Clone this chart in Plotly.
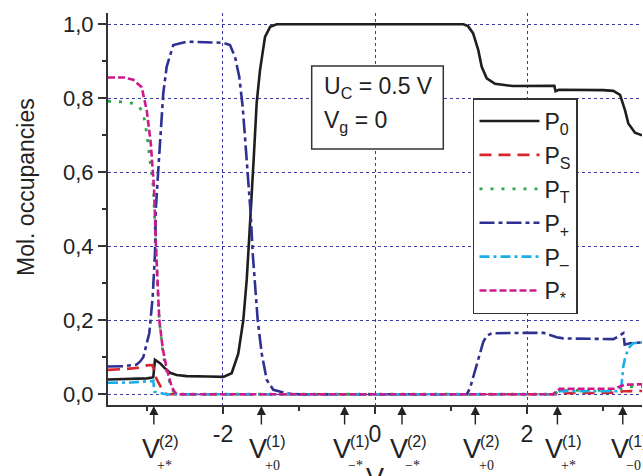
import plotly.graph_objects as go

# ---------------- data ----------------
x_P0 = [-3.513, -3.2, -3.0, -2.93, -2.917, -2.895, -2.829, -2.763, -2.697, -2.609, -2.478, -2.2,
        -1.996, -1.886, -1.799, -1.733, -1.688, -1.654, -1.622, -1.592, -1.557, -1.513, -1.447,
        -1.38, -1.293, 0.0, 1.162, 1.224, 1.29, 1.359, 1.404, 1.47, 1.579, 1.816, 2.36, 2.375,
        2.42, 3.0, 3.136, 3.224, 3.289, 3.333, 3.421, 3.513]
y_P0 = [0.040, 0.041, 0.043, 0.045, 0.047, 0.093, 0.084, 0.070, 0.058, 0.052, 0.049, 0.048,
        0.047, 0.057, 0.110, 0.200, 0.309, 0.426, 0.534, 0.651, 0.787, 0.876, 0.966,
        0.993, 1.0, 1.0, 1.0, 0.995, 0.976, 0.930, 0.885, 0.854, 0.839, 0.833, 0.834, 0.819,
        0.823, 0.822, 0.820, 0.809, 0.768, 0.732, 0.707, 0.700]

x_PS = [-3.513, -3.3, -3.1, -3.0, -2.93, -2.905, -2.895, -2.85, -2.807, -2.77, -2.74,
        2.38, 2.42, 3.2, 3.26, 3.513]
y_PS = [0.066, 0.068, 0.072, 0.078, 0.079, 0.065, 0.050, 0.030, 0.015, 0.005, 0.0,
        0.0, 0.003, 0.004, 0.008, 0.009]

x_PT = [-3.513, -3.3, -3.18, -3.1, -3.049, -3.004, -2.961, -2.917, -2.882, -2.838, -2.79,
        -2.741, -2.675, -2.63, 2.36, 2.42, 3.2, 3.28, 3.513]
y_PT = [0.792, 0.790, 0.786, 0.776, 0.760, 0.706, 0.633, 0.560, 0.400, 0.200, 0.110,
        0.060, 0.015, 0.0, 0.0, 0.010, 0.011, 0.020, 0.021]

x_Pplus = [-3.513, -3.3, -3.14, -3.092, -3.049, -3.004, -2.97, -2.961, -2.925, -2.895, -2.882,
           -2.829, -2.786, -2.741, -2.654, -2.478, -2.2, -1.996, -1.908, -1.842, -1.786,
           -1.741, -1.711, -1.667, -1.636, -1.609, -1.579, -1.543, -1.491, -1.425, -1.338,
           -1.162, -1.0, 1.15, 1.207, 1.25, 1.293, 1.338, 1.382, 1.425, 1.47, 1.535, 2.0,
           2.215, 2.303, 2.391, 2.478, 3.0, 3.136, 3.197, 3.267, 3.285, 3.355, 3.513]
y_Pplus = [0.075, 0.076, 0.080, 0.088, 0.100, 0.135, 0.165, 0.183, 0.264, 0.380, 0.507,
           0.678, 0.813, 0.885, 0.944, 0.953, 0.952, 0.950, 0.944, 0.912, 0.858,
           0.777, 0.696, 0.588, 0.489, 0.381, 0.291, 0.200, 0.111, 0.039, 0.012,
           0.002, 0.0, 0.0, 0.0, 0.016, 0.048, 0.079, 0.111, 0.142, 0.158, 0.165, 0.166,
           0.166, 0.160, 0.154, 0.151, 0.149, 0.149, 0.156, 0.165, 0.134, 0.138, 0.140]

x_Pminus = [-3.513, -3.2, -2.93, -2.917, -2.904, -2.829, -2.75, 2.38, 2.43, 3.18, 3.224,
            3.246, 3.267, 3.289, 3.333, 3.399, 3.513]
y_Pminus = [0.031, 0.032, 0.036, 0.037, 0.007, 0.003, 0.0, 0.0, 0.008, 0.008, 0.012,
            0.030, 0.075, 0.097, 0.124, 0.138, 0.140]

x_Pstar = [-3.513, -3.3, -3.18, -3.07, -3.004, -2.951, -2.908, -2.882, -2.838, -2.79, -2.741,
           -2.675, -2.632, -2.57, 2.34, 2.43, 3.15, 3.29, 3.513]
y_Pstar = [0.856, 0.856, 0.850, 0.830, 0.768, 0.680, 0.560, 0.400, 0.200, 0.120, 0.070,
           0.020, 0.005, 0.0, 0.0, 0.0145, 0.015, 0.026, 0.027]

series_names = ["P<sub>0</sub>", "P<sub>S</sub>", "P<sub>T</sub>", "P<sub>+</sub>",
                "P<sub>\u2013</sub>", "P<sub>*</sub>"]

x_tickvals = [-2, 0, 2]
x_ticktext = ["-2", "0", "2"]
x_minor = [-3, -1, 1, 3]
y_tickvals = [0.0, 0.2, 0.4, 0.6, 0.8, 1.0]
y_ticktext = ["0,0", "0,2", "0,4", "0,6", "0,8", "1,0"]
y_minor = [0.1, 0.3, 0.5, 0.7, 0.9]

# characteristic voltages marked by arrows below the axis
marker_x = [-2.91, -1.495, -0.40, 0.355, 1.32, 2.40, 3.26]
marker_sup = ["(2)", "(1)", "(1)", "(2)", "(2)", "(1)", "(1)"]
marker_sub = ["+*", "+0", "\u2212*", "\u2212*", "+0", "+*", "\u22120"]

# ---------------- styling ----------------
FONT = "Liberation Sans, Arial, Helvetica, sans-serif"
colors = ["#1e1e1e", "#d7262e", "#2fa650", "#2e3192", "#1aaeea", "#cc1a8c"]
dashes = ["solid", "12px,7px", "3px,8px", "15px,4px,4px,4px", "10px,4px,3px,4px", "7px,3px"]
widths = [2.6, 2.6, 2.8, 2.6, 2.6, 2.6]

xs = [x_P0, x_PS, x_PT, x_Pplus, x_Pminus, x_Pstar]
ys = [y_P0, y_PS, y_PT, y_Pplus, y_Pminus, y_Pstar]

fig = go.Figure()
for i in range(6):
    fig.add_trace(go.Scatter(
        x=xs[i], y=ys[i], mode="lines", name=series_names[i],
        legendgroup="g%d" % i,
        line=dict(color=colors[i], width=widths[i], dash=dashes[i]),
    ))

XR = [-3.513, 3.513]
YR = [-0.029, 1.0305]
grid_col = "#3b3ba8"

fig.update_layout(
    width=643, height=476,
    margin=dict(l=108, r=1, t=13, b=71),
    paper_bgcolor="white", plot_bgcolor="white",
    font=dict(family=FONT, color="#222"),
    showlegend=True,
    legend=dict(
        x=0.6835, y=0.783, xanchor="left", yanchor="top",
        bgcolor="white", bordercolor="#333", borderwidth=1.5,
        font=dict(family=FONT, size=23, color="#222"),
        tracegroupgap=1, itemwidth=60,
    ),
    xaxis=dict(
        range=XR, showgrid=True, gridcolor=grid_col, griddash="dot", gridwidth=1,
        zeroline=False, showline=True, linecolor="#333", linewidth=2,
        tickmode="array", tickvals=x_tickvals, ticktext=x_ticktext,
        ticks="outside", ticklen=7, tickwidth=2, tickcolor="#333",
        tickfont=dict(family=FONT, size=23, color="#222"),
        minor=dict(tickvals=x_minor, ticks="outside", ticklen=4, tickwidth=2,
                   tickcolor="#333", showgrid=False),
    ),
    yaxis=dict(
        range=YR, showgrid=True, gridcolor=grid_col, griddash="dot", gridwidth=1,
        zeroline=False, showline=True, linecolor="#333", linewidth=2,
        tickmode="array", tickvals=y_tickvals, ticktext=y_ticktext,
        ticks="outside", ticklen=8, tickwidth=2, tickcolor="#333",
        tickfont=dict(family=FONT, size=22, color="#222"),
        minor=dict(tickvals=y_minor, ticks="outside", ticklen=4, tickwidth=2,
                   tickcolor="#333", showgrid=False),
    ),
    xaxis2=dict(
        range=XR, overlaying="x", side="top", anchor="y", showgrid=False, zeroline=False,
        showline=True, linecolor="#333", linewidth=2, showticklabels=False,
        tickmode="array", tickvals=x_tickvals, ticks="inside", ticklen=7, tickwidth=2,
        tickcolor="#333",
        minor=dict(tickvals=x_minor, ticks="inside", ticklen=4, tickwidth=2, tickcolor="#333"),
    ),
    yaxis2=dict(
        range=YR, overlaying="y", side="right", anchor="x", showgrid=False, zeroline=False,
        showline=True, linecolor="#333", linewidth=2, showticklabels=False,
        tickmode="array", tickvals=y_tickvals, ticks="inside", ticklen=7, tickwidth=2,
        tickcolor="#333",
        minor=dict(tickvals=y_minor, ticks="inside", ticklen=4, tickwidth=2, tickcolor="#333"),
    ),
)

# parameter box
fig.add_shape(type="rect", xref="paper", yref="paper",
              x0=(311.7 - 108) / 534, x1=(443.3 - 108) / 534,
              y0=(405 - 149) / 392, y1=(405 - 66) / 392,
              line=dict(color="#333", width=1.5), fillcolor="white", layer="above")
fig.add_annotation(xref="paper", yref="paper", x=(322 - 108) / 534, y=(405 - 87) / 392,
                   xanchor="left", yanchor="middle", showarrow=False,
                   text="U<sub>C</sub> = 0.5 V", font=dict(family=FONT, size=23, color="#222"))
fig.add_annotation(xref="paper", yref="paper", x=(322 - 108) / 534, y=(405 - 122) / 392,
                   xanchor="left", yanchor="middle", showarrow=False,
                   text="V<sub>g</sub> = 0", font=dict(family=FONT, size=23, color="#222"))

# y-axis title
fig.add_annotation(xref="paper", yref="paper", x=-(108 - 26) / 534, y=(405 - 187) / 392,
                   xanchor="center", yanchor="middle", showarrow=False, textangle=-90,
                   text="Mol. occupancies", font=dict(family=FONT, size=23, color="#222"))
# x-axis title (cut off at the bottom as in the reference)
fig.add_annotation(xref="x", yref="paper", x=0, y=0, yshift=-56, xanchor="center",
                   yanchor="top", showarrow=False, text="V",
                   font=dict(family=FONT, size=27, color="#222"))

# arrows with labels
for xv, sp, sb in zip(marker_x, marker_sup, marker_sub):
    fig.add_annotation(xref="x", yref="paper", x=xv, y=0, ax=0, ay=28, axref="pixel",
                       ayref="pixel", text=" ", showarrow=True, arrowhead=2, arrowsize=1.3,
                       arrowwidth=1.4, arrowcolor="#222", standoff=1)
    fig.add_annotation(xref="x", yref="paper", x=xv, y=0, xshift=-3, yshift=-44,
                       xanchor="center", yanchor="middle", showarrow=False, text="V",
                       font=dict(family=FONT, size=27, color="#222"))
    fig.add_annotation(xref="x", yref="paper", x=xv, y=0, xshift=15, yshift=-36,
                       xanchor="center", yanchor="middle", showarrow=False, text=sp,
                       font=dict(family=FONT, size=16, color="#222"))
    fig.add_annotation(xref="x", yref="paper", x=xv, y=0, xshift=11, yshift=-60,
                       xanchor="center", yanchor="middle", showarrow=False, text=sb,
                       font=dict(family="Liberation Serif, Times New Roman, serif", size=14,
                                 color="#222"))

fig.write_html("out.html")
